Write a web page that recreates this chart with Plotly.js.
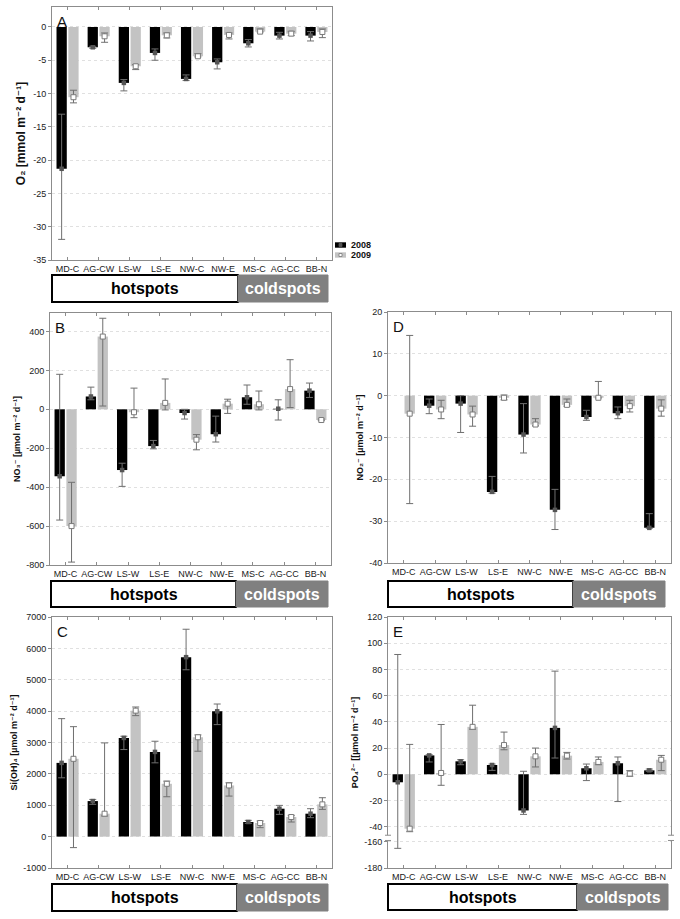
<!DOCTYPE html>
<html><head><meta charset="utf-8">
<script src="https://cdn.plot.ly/plotly-3.0.1.min.js"></script>
<style>html,body{margin:0;padding:0;background:#fff}#chart{width:680px;height:919px}</style>
</head><body><div id="chart"></div>
<script>
// ---------------- DATA ----------------
const sites = ['MD-C','AG-CW','LS-W','LS-E','NW-C','NW-E','MS-C','AG-CC','BB-N'];
const years = ['2008','2009'];
const groups = ['hotspots','coldspots'];

// A: O2 flux [mmol m-2 d-1]
const o2Mean2008  = [-21.3, -3.05, -8.4, -3.9, -7.8, -5.3, -2.45, -1.3, -1.3];
const o2Upper2008 = [-13.1, -2.9, -7.9, -3.3, -7.2, -4.8, -1.9, -0.8, -0.7];
const o2Lower2008 = [-31.9, -3.2, -9.6, -5.0, -8.05, -6.3, -3.0, -1.8, -2.1];
const o2Mean2009  = [-10.55, -1.4, -5.9, -1.25, -4.4, -1.2, -0.7, -1.0, -0.75];
const o2Upper2009 = [-9.5, -0.9, -5.65, -0.9, -4.0, -0.9, -0.3, -0.65, -0.3];
const o2Lower2009 = [-11.4, -2.3, -6.4, -1.65, -4.5, -1.8, -0.75, -1.3, -1.6];
const o2Ticks = [-35, -30, -25, -20, -15, -10, -5, 0];

// B: NO3- flux [umol m-2 d-1]
const no3Mean2008  = [-344, 66, -312, -189, -19, -128, 62, 3, 96];
const no3Upper2008 = [180, 114, -277, -160, 0, -35, 125, 49, 135];
const no3Lower2008 = [-569, 49, -396, -203, -50, -168, 26, -55, 61];
const no3Mean2009  = [-600, 374, -15, 33, -156, 29, 26, 104, -55];
const no3Upper2009 = [-375, 468, 109, 156, -130, 52, 94, 255, -50];
const no3Lower2009 = [-785, 17, -43, -3, -208, -21, -3, 9, -58];
const no3Ticks = [-800, -600, -400, -200, 0, 200, 400];

// D: NO2- flux [umol m-2 d-1]
const no2Mean2008  = [null, -2.4, -1.9, -23.0, -9.3, -27.3, -5.1, -4.2, -31.6];
const no2Upper2008 = [null, -0.8, 0, -19.3, -1.9, -22.4, -3.5, -2.7, -28.2];
const no2Lower2008 = [null, -4.3, -8.8, -23.3, -13.7, -32.0, -5.9, -5.5, -31.7];
const no2Mean2009  = [-4.3, -3.3, -4.5, -0.5, -6.9, -2.2, -0.5, -2.5, -3.1];
const no2Upper2009 = [14.4, -1.1, -2.5, 0.15, -5.5, -0.8, 3.4, -1.1, -1.0];
const no2Lower2009 = [-25.8, -5.5, -7.3, -1.0, -7.2, -2.5, -0.55, -3.9, -4.9];
const no2Ticks = [-40, -30, -20, -10, 0, 10, 20];

// C: Si(OH)4 flux [umol m-2 d-1]
const siMean2008  = [2350, 1133, 3146, 2700, 5720, 3994, 466, 890, 731];
const siUpper2008 = [3760, 1186, 3200, 3040, 6610, 4227, 519, 996, 890];
const siLower2008 = [1875, 1030, 2775, 2352, 5318, 3570, 424, 710, 604];
const siMean2009  = [2480, 731, 4015, 1684, 3167, 1631, 434, 625, 1028];
const siUpper2009 = [3505, 2987, 4131, 1769, 3242, 1716, 498, 678, 1240];
const siLower2009 = [-350, 657, 3856, 1271, 2722, 1292, 286, 466, 869];
const siTicks = [-1000, 0, 1000, 2000, 3000, 4000, 5000, 6000, 7000];

// E: PO4 flux [umol m-2 d-1] (axis broken between -40 and -160)
const po4Mean2008  = [-6.1, 14.4, 9.9, 7.1, -27.6, 35.4, 4.6, 8.4, 3.0];
const po4Upper2008 = [91.4, 14.9, 11.1, 7.8, 2.3, 78.7, 7.8, 13.2, 4.0];
const po4Lower2008 = [-165, 9.4, 7.3, 3.0, -30.6, 12.4, -4.8, -20.8, 2.3];
const po4Mean2009  = [-41.5, 1.0, 36.2, 22.3, 13.7, 14.2, 9.4, 0.5, 11.1];
const po4Upper2009 = [22.8, 38, 52.7, 32.2, 20, 16.7, 13.2, 2.8, 14.4];
const po4Lower2009 = [-43.8, -8.4, 34.4, 18.7, 5.6, 11.6, 7.3, -1.5, 2.8];
const po4Ticks = [-180, -160, -40, -20, 0, 20, 40, 60, 80, 100, 120];

// ---------------- LAYOUT HELPERS ----------------
const W = 680, H = 919;
const px = x => x / W;
const py = y => 1 - y / H;
const FONT = 'Liberation Sans, Arial, DejaVu Sans, sans-serif';
const BREAK_SHIFT = 108.5;            // broken-axis shift for values below the break
const breakMap = v => (v == null ? null : (v < -45 ? v + BREAK_SHIFT : v));
const ident = v => v;

const panels = [
  {letter:'A', title:'<b>O₂ [mmol m⁻² d⁻¹]</b>', tsize:12,
   m08:o2Mean2008, u08:o2Upper2008, l08:o2Lower2008, m09:o2Mean2009, u09:o2Upper2009, l09:o2Lower2009,
   ticks:o2Ticks, range:[-35,3], tf:ident,
   L:52, R:332, T:7, B:260, bT:275, bB:302, bL:52, bS:238, bR:328},
  {letter:'B', title:'<b>NO₃⁻ [µmol m⁻² d⁻¹]</b>', tsize:9,
   m08:no3Mean2008, u08:no3Upper2008, l08:no3Lower2008, m09:no3Mean2009, u09:no3Upper2009, l09:no3Lower2009,
   ticks:no3Ticks, range:[-800,495], tf:ident,
   L:50, R:331, T:313, B:565, bT:581, bB:607, bL:51, bS:236, bR:328},
  {letter:'D', title:'<b>NO₂⁻ [µmol m⁻² d⁻¹]</b>', tsize:9,
   m08:no2Mean2008, u08:no2Upper2008, l08:no2Lower2008, m09:no2Mean2009, u09:no2Upper2009, l09:no2Lower2009,
   ticks:no2Ticks, range:[-40,20], tf:ident,
   L:388, R:671, T:312, B:563, bT:581, bB:607, bL:388, bS:573, bR:665},
  {letter:'C', title:'<b>Si(OH)₄ [µmol m⁻² d⁻¹]</b>', tsize:9,
   m08:siMean2008, u08:siUpper2008, l08:siLower2008, m09:siMean2009, u09:siUpper2009, l09:siLower2009,
   ticks:siTicks, range:[-1000,7000], tf:ident,
   L:52, R:332, T:617, B:868, bT:884, bB:911, bL:52, bS:237, bR:328},
  {letter:'E', title:'<b>PO₄²⁻ [[µmol m⁻² d⁻¹]</b>', tsize:9,
   m08:po4Mean2008, u08:po4Upper2008, l08:po4Lower2008, m09:po4Mean2009, u09:po4Upper2009, l09:po4Lower2009,
   ticks:po4Ticks, range:[-71.5,120], tf:breakMap,
   L:388, R:671, T:617, B:868, bT:884, bB:910, bL:388, bS:577, bR:668}
];

const traces = [];
const layout = {
  width: W, height: H, margin:{l:0,r:0,t:0,b:0},
  paper_bgcolor:'#fff', plot_bgcolor:'#fff',
  barmode:'overlay', showlegend:false,
  font:{family:FONT, color:'#1a1a1a'},
  shapes:[], annotations:[]
};

const OFF = 0.19, BW = 0.33;
const idx = sites.map((_, i) => i);

panels.forEach((p, k) => {
  const n = k + 1;
  const xa = n === 1 ? 'x' : 'x' + n, ya = n === 1 ? 'y' : 'y' + n;
  const xKey = n === 1 ? 'xaxis' : 'xaxis' + n, yKey = n === 1 ? 'yaxis' : 'yaxis' + n;
  const tf = p.tf;
  const series = [
    {m:p.m08, u:p.u08, l:p.l08, off:-OFF, bar:'#000000', mk:{symbol:'square', size:4.5, color:'#555555', line:{width:0}}, name:years[0]},
    {m:p.m09, u:p.u09, l:p.l09, off: OFF, bar:'#c3c3c3', mk:{symbol:'square', size:5, color:'#ffffff', line:{width:1, color:'#7a7a7a'}}, name:years[1]}
  ];
  series.forEach(s => {
    const xs = idx.map(i => i + s.off);
    const ys = s.m.map(tf);
    traces.push({type:'bar', x:xs, y:ys, width:BW, name:s.name, xaxis:xa, yaxis:ya,
      marker:{color:s.bar, line:{width:0}}, hoverinfo:'skip'});
    traces.push({type:'scatter', mode:'markers', x:xs, y:ys, name:s.name, xaxis:xa, yaxis:ya,
      marker:s.mk, hoverinfo:'skip', cliponaxis:false,
      error_y:{type:'data', symmetric:false,
        array: s.m.map((v, i) => v == null ? null : tf(s.u[i]) - tf(v)),
        arrayminus: s.m.map((v, i) => v == null ? null : tf(v) - tf(s.l[i])),
        color:'#6f6f6f', thickness:1, width:3.5}});
  });

  layout[xKey] = {
    domain:[px(p.L), px(p.R)], anchor:ya, range:[-0.5, 8.5],
    tickvals:idx, ticktext:sites, ticks:'inside', ticklen:3, tickcolor:'#8c8c8c',
    showline:true, linecolor:'#8c8c8c', linewidth:1, mirror:'ticks',
    showgrid:false, zeroline:false, fixedrange:true,
    tickfont:{family:FONT, size:9, color:'#1a1a1a'}
  };
  layout[yKey] = {
    domain:[py(p.B), py(p.T)], anchor:xa, range:p.range,
    tickvals:p.ticks.map(tf), ticktext:p.ticks.map(String),
    ticks:'outside', ticklen:3, tickcolor:'#8c8c8c',
    showline:true, linecolor:'#8c8c8c', linewidth:1, mirror:true,
    showgrid:true, gridcolor:'#e0e0e0', griddash:'dot', gridwidth:1,
    zeroline:false, fixedrange:true,
    tickfont:{family:FONT, size:9, color:'#1a1a1a'},
    title:{text:p.title, font:{family:FONT, size:p.tsize, color:'#111'}, standoff:4}
  };

  // panel letter
  layout.annotations.push({xref:'paper', yref:'paper', x:px(p.L + 3), y:py(p.T + 4),
    xanchor:'left', yanchor:'top', showarrow:false, text:p.letter,
    font:{family:FONT, size:15, color:'#111'}});

  // hotspots / coldspots boxes
  layout.shapes.push({type:'rect', xref:'paper', yref:'paper', x0:px(p.bL), x1:px(p.bS), y0:py(p.bB), y1:py(p.bT),
    fillcolor:'#ffffff', line:{color:'#000', width:2}, layer:'above'});
  layout.shapes.push({type:'rect', xref:'paper', yref:'paper', x0:px(p.bS), x1:px(p.bR), y0:py(p.bB), y1:py(p.bT),
    fillcolor:'#808080', line:{color:'#808080', width:1}, layer:'above'});
  layout.annotations.push({xref:'paper', yref:'paper', x:px((p.bL + p.bS) / 2), y:py((p.bT + p.bB) / 2),
    xanchor:'center', yanchor:'middle', showarrow:false, text:'<b>' + groups[0] + '</b>',
    font:{family:FONT, size:16, color:'#000'}});
  layout.annotations.push({xref:'paper', yref:'paper', x:px((p.bS + p.bR) / 2), y:py((p.bT + p.bB) / 2),
    xanchor:'center', yanchor:'middle', showarrow:false, text:'<b>' + groups[1] + '</b>',
    font:{family:FONT, size:16, color:'#fff'}});
});

// axis break marks on panel E
const eP = panels[4];
[eP.L, eP.R].forEach(xp => {
  layout.shapes.push({type:'rect', xref:'paper', yref:'y5', x0:px(xp - 3), x1:px(xp + 3), y0:-50.5, y1:-46.5,
    fillcolor:'#fff', line:{width:0}, layer:'above'});
  [-50.5, -46.5].forEach(yv => layout.shapes.push({type:'line', xref:'paper', yref:'y5',
    x0:px(xp - 3), x1:px(xp + 3), y0:yv, y1:yv, line:{color:'#8c8c8c', width:1}, layer:'above'}));
});

// legend (drawn manually next to panel A)
const legendRows = [
  {y:245, fill:'#000000', mk:'#555555', mkLine:'#555555', label:years[0]},
  {y:255, fill:'#c3c3c3', mk:'#ffffff', mkLine:'#7a7a7a', label:years[1]}
];
legendRows.forEach(r => {
  layout.shapes.push({type:'rect', xref:'paper', yref:'paper', x0:px(335), x1:px(346), y0:py(r.y + 2.7), y1:py(r.y - 2.7),
    fillcolor:r.fill, line:{width:0}});
  layout.shapes.push({type:'rect', xref:'paper', yref:'paper', x0:px(339), x1:px(342), y0:py(r.y + 1.5), y1:py(r.y - 1.5),
    fillcolor:r.mk, line:{width:0.8, color:r.mkLine}});
  layout.annotations.push({xref:'paper', yref:'paper', x:px(349), y:py(r.y), xanchor:'left', yanchor:'middle',
    showarrow:false, text:'<b>' + r.label + '</b>', font:{family:FONT, size:9, color:'#111'}});
});

Plotly.newPlot('chart', traces, layout, {staticPlot:true, displayModeBar:false});
</script>
</body></html>
